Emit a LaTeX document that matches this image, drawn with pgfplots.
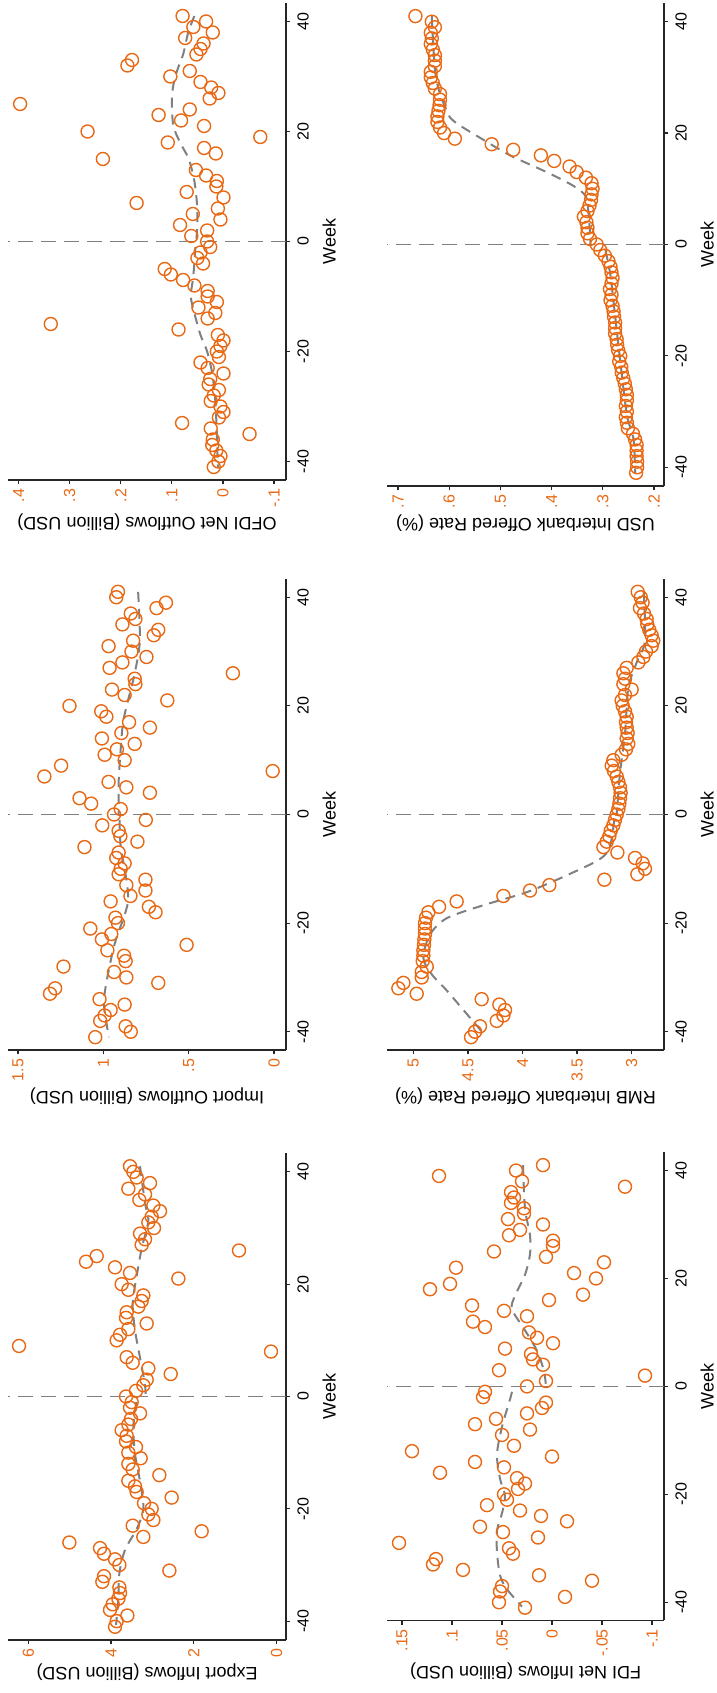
\documentclass[border=0pt]{standalone}
\usepackage{pgfplots}
\pgfplotsset{compat=1.18}
\usepackage{pgfplotstable}
\usepackage{fontspec}
\setmainfont{Liberation Sans}
\definecolor{stor}{RGB}{232,104,20}
\definecolor{stgr}{RGB}{128,128,128}

\pgfplotstableread{
w v
41 0.079
40 0.033
39 0.058
38 0.020
37 0.074
36 0.038
35 0.044
34 0.052
33 0.178
32 0.187
31 0.065
30 0.103
29 0.044
28 0.023
27 0.009
26 0.026
25 0.397
24 0.065
23 0.126
22 0.082
21 0.037
20 0.265
19 -0.073
18 0.108
17 0.037
16 0.014
15 0.235
13 0.053
12 0.033
11 0.012
10 0.013
9 0.071
8 -0.001
7 0.169
6 0.010
5 0.059
4 0.005
3 0.084
2 0.031
1 0.062
0 0.031
-1 0.025
-2 0.044
-3 0.050
-4 0.039
-5 0.114
-6 0.102
-7 0.078
-8 0.056
-9 0.030
-10 0.030
-11 0.012
-12 0.048
-13 0.015
-14 0.030
-15 0.337
-16 0.087
-17 0.010
-18 -0.001
-19 0.005
-20 0.012
-21 0.008
-22 0.044
-23 0.030
-24 -0.001
-25 0.025
-26 0.028
-27 0.008
-28 0.018
-29 0.024
-30 0.005
-31 -0.001
-32 0.008
-33 0.080
-34 0.024
-35 -0.052
-36 0.020
-37 0.021
-38 0.013
-39 0.005
-40 0.009
-41 0.018
}\ofdi

\pgfplotstableread{
w v
41 0.666
40 0.634
39 0.628
38 0.636
37 0.634
36 0.636
35 0.632
34 0.628
33 0.628
32 0.628
31 0.636
30 0.636
29 0.632
28 0.628
27 0.618
26 0.618
25 0.619
24 0.621
23 0.623
22 0.623
21 0.618
20 0.610
19 0.589
18 0.517
17 0.475
16 0.421
15 0.395
14 0.365
13 0.351
12 0.333
11 0.322
10 0.320
9 0.322
8 0.323
7 0.326
6 0.330
5 0.337
4 0.332
3 0.330
2 0.330
1 0.325
0 0.312
-1 0.305
-2 0.296
-3 0.289
-4 0.285
-5 0.283
-6 0.281
-7 0.283
-8 0.286
-9 0.283
-10 0.285
-11 0.281
-12 0.279
-13 0.278
-14 0.276
-15 0.276
-16 0.276
-17 0.273
-18 0.272
-19 0.270
-20 0.266
-21 0.268
-22 0.264
-23 0.263
-24 0.260
-25 0.257
-26 0.255
-27 0.253
-28 0.253
-29 0.255
-30 0.253
-31 0.255
-32 0.253
-33 0.251
-34 0.241
-35 0.237
-36 0.234
-37 0.234
-38 0.234
-39 0.233
-40 0.233
-41 0.235
}\usd

\pgfplotstableread{
w v
41 0.914
40 0.924
39 0.633
38 0.688
37 0.839
36 0.812
35 0.888
34 0.678
33 0.704
32 0.825
31 0.969
30 0.835
29 0.747
28 0.888
27 0.963
26 0.241
25 0.816
24 0.812
23 0.949
22 0.875
21 0.625
20 1.198
19 1.012
18 0.982
17 0.849
16 0.727
15 0.894
14 1.008
13 0.816
12 0.920
11 0.992
10 0.875
9 1.247
8 0.008
7 1.345
6 0.969
5 0.865
4 0.727
3 1.139
2 1.071
1 0.898
0 0.937
-1 0.751
-2 1.006
-3 0.910
-4 0.900
-5 0.800
-6 1.110
-7 0.910
-8 0.924
-9 0.875
-10 0.898
-11 0.910
-12 0.753
-13 0.865
-14 0.753
-15 0.841
-16 0.957
-17 0.733
-18 0.694
-19 0.929
-20 0.914
-21 1.076
-22 0.953
-23 1.008
-24 0.512
-25 0.976
-26 0.878
-27 0.869
-28 1.233
-29 0.937
-30 0.865
-31 0.678
-32 1.282
-33 1.312
-34 1.022
-35 0.875
-36 0.957
-37 0.992
-38 1.018
-39 0.869
-40 0.839
-41 1.047
}\import

\pgfplotstableread{
w v
41 2.945
40 2.917
39 2.900
38 2.924
37 2.887
36 2.863
35 2.857
34 2.839
33 2.817
32 2.802
31 2.817
30 2.869
29 2.893
28 2.939
27 3.046
26 3.076
25 3.061
24 3.076
23 3.000
22 3.061
21 3.092
20 3.082
19 3.061
18 3.046
17 3.052
16 3.046
15 3.037
14 3.046
13 3.031
12 3.052
11 3.092
10 3.168
9 3.183
8 3.162
7 3.137
6 3.122
5 3.107
4 3.101
3 3.107
2 3.113
1 3.122
0 3.137
-1 3.153
-2 3.168
-3 3.192
-4 3.205
-5 3.229
-6 3.259
-7 3.131
-8 2.969
-9 2.899
-10 2.878
-11 2.948
-12 3.250
-13 3.754
-14 3.931
-15 4.175
-16 4.603
-17 4.764
-18 4.862
-19 4.884
-20 4.893
-21 4.893
-22 4.893
-23 4.899
-24 4.902
-25 4.908
-26 4.908
-27 4.914
-28 4.877
-29 4.923
-30 4.923
-31 5.091
-32 5.137
-33 4.969
-34 4.374
-35 4.212
-36 4.160
-37 4.175
-38 4.236
-39 4.389
-40 4.435
-41 4.471
}\rmb

\pgfplotstableread{
w v
41 3.543
40 3.462
39 3.382
38 3.060
37 3.583
36 3.180
35 3.317
34 2.979
33 2.818
32 3.019
31 3.100
30 2.963
29 3.301
28 3.180
27 3.261
26 0.910
25 4.348
24 4.605
23 3.905
22 3.543
21 2.375
20 3.744
19 3.583
18 3.221
17 3.261
16 3.341
15 3.623
14 3.639
13 3.140
12 3.583
11 3.784
10 3.865
9 6.224
8 0.137
7 3.623
6 3.478
5 3.100
4 2.560
3 3.140
2 3.221
1 3.398
0 3.639
-1 3.502
-2 3.543
-3 3.301
-4 3.519
-5 3.583
-6 3.744
-7 3.623
-8 3.639
-9 3.398
-10 3.583
-11 3.285
-12 3.583
-13 3.478
-14 2.834
-15 3.583
-16 3.422
-17 3.382
-18 2.536
-19 3.204
-20 3.019
-21 3.100
-22 2.979
-23 3.478
-24 1.812
-25 3.221
-26 5.008
-27 4.267
-28 4.171
-29 3.905
-30 3.800
-31 2.592
-32 4.171
-33 4.211
-34 3.800
-35 3.784
-36 3.824
-37 3.961
-38 4.026
-39 3.607
-40 3.865
-41 3.905
}\export

\pgfplotstableread{
w v
41 0.009
40 0.036
39 0.113
38 0.030
37 -0.073
36 0.041
35 0.038
34 0.041
33 0.028
32 0.028
31 0.044
30 0.009
29 0.032
28 0.043
27 -0.001
26 -0.001
25 0.058
24 0.006
23 -0.052
22 0.096
21 -0.022
20 -0.044
19 0.102
18 0.122
17 -0.031
16 0.003
15 0.080
14 0.048
13 0.025
12 0.079
11 0.067
10 0.023
9 0.015
8 -0.001
7 0.047
6 0.021
5 0.019
4 0.009
3 0.053
2 -0.093
1 0.006
0 0.025
-1 0.067
-2 0.069
-3 0.006
-4 0.010
-5 0.025
-6 0.056
-7 0.077
-8 0.022
-9 0.050
-11 0.038
-12 0.140
-13 0.000
-14 0.077
-15 0.048
-16 0.112
-17 0.035
-18 0.027
-19 0.034
-20 0.048
-21 0.045
-22 0.065
-23 0.032
-24 0.011
-25 -0.015
-26 0.072
-27 0.049
-28 0.014
-29 0.153
-30 0.043
-31 0.039
-32 0.116
-33 0.119
-34 0.089
-35 0.013
-36 -0.040
-37 0.050
-38 0.052
-39 -0.013
-40 0.053
-41 0.027
}\fdi

\pgfplotsset{
  every axis x label/.style={at={(ticklabel cs:0.5)}, rotate=180, anchor=south,
    inner sep=1pt, font=\fontsize{9}{10.8}\selectfont},
  every axis y label/.style={at={(ticklabel cs:0.5)}, rotate=90, anchor=north,
    font=\fontsize{9}{10.8}\selectfont},
  panel/.style={
    scale only axis, anchor=south west,
    x dir=reverse,
    axis x line*=bottom,
    axis y line*=right,
    axis line style={black!85, line width=0.7pt},
    ymin=-43.36, ymax=43.36,
    ytick={-40,-20,0,20,40},
    yticklabels={-40,-20,0,20,40},
    yticklabel style={rotate=90, anchor=north, font=\fontsize{8}{9.6}\selectfont, text=black},
    xticklabel style={rotate=90, anchor=east, inner sep=2pt, font=\fontsize{8}{9.6}\selectfont, text=stor},
    tick style={black!85, line width=0.6pt},
    tick align=outside,
    major tick length=2.2pt,
    ylabel={Week},
    clip=false,
  },
  pts/.style={only marks, mark=o, mark size=3.25pt, mark options={stor, line width=0.7pt}},
  fitl/.style={stgr, line width=1pt, dash pattern=on 5pt off 3.5pt, smooth, no marks},
  zero/.style={stgr, line width=0.75pt, dash pattern=on 7.5pt off 4pt, no marks},
}

\begin{document}
\begin{tikzpicture}
\useasboundingbox (0pt,0pt) rectangle (358.5pt,846.5pt);

% ---------- OFDI (top left) ----------
\begin{axis}[panel, at={(4pt,606.5pt)}, width=139pt, height=238.5pt,
  xmin=-0.1233, xmax=0.4207,
  xtick={-0.1,0,0.1,0.2,0.3,0.4}, xticklabels={-.1,0,.1,.2,.3,.4},
  xlabel={OFDI Net Outflows (Billion USD)}]
\addplot[zero] coordinates {(-0.1233,0) (0.4207,0)};
\addplot[pts] table[x=v,y=w] {\ofdi};
\addplot[fitl] coordinates {(0.056,41) (0.068,38) (0.078,34) (0.090,31) (0.098,28) (0.100,25) (0.097,21) (0.084,18) (0.067,15) (0.056,11) (0.051,7) (0.050,4) (0.052,0)};
\addplot[fitl] coordinates {(0.054,-1) (0.056,-4) (0.059,-7) (0.063,-10) (0.056,-13) (0.044,-17) (0.031,-20) (0.021,-24) (0.015,-29) (0.012,-35) (0.010,-41)};
\end{axis}

% ---------- USD (top right) ----------
\begin{axis}[panel, at={(193.5pt,603.5pt)}, width=138.5pt, height=241.5pt,
  xmin=0.1805, xmax=0.7215,
  xtick={0.2,0.3,0.4,0.5,0.6,0.7}, xticklabels={.2,.3,.4,.5,.6,.7},
  xlabel={USD Interbank Offered Rate (\%)}]
\addplot[zero] coordinates {(0.1805,0) (0.7215,0)};
\addplot[pts] table[x=v,y=w] {\usd};
\addplot[fitl] coordinates {(0.634,41) (0.626,30) (0.605,24) (0.589,22) (0.537,19) (0.481,16) (0.410,13) (0.357,10.5) (0.333,8.6) (0.328,5.6) (0.325,2) (0.324,0)};
\addplot[fitl] coordinates {(0.295,-1) (0.285,-5.6) (0.276,-12.8) (0.265,-21.7) (0.253,-30.6) (0.240,-35) (0.237,-41)};
\end{axis}

% ---------- Import (middle left) ----------
\begin{axis}[panel, at={(4pt,321.5pt)}, width=139pt, height=235.5pt,
  xmin=-0.07, xmax=1.558,
  xtick={0,0.5,1,1.5}, xticklabels={0,.5,1,1.5},
  xlabel={Import Outflows (Billion USD)}]
\addplot[zero] coordinates {(-0.07,0) (1.558,0)};
\addplot[pts] table[x=v,y=w] {\import};
\addplot[fitl] coordinates {(0.796,41) (0.786,32) (0.816,26) (0.855,21) (0.884,17) (0.898,12) (0.910,6) (0.910,0)};
\addplot[fitl] coordinates {(0.905,-1) (0.898,-6) (0.875,-10) (0.860,-13) (0.855,-16) (0.880,-19) (0.915,-22) (0.943,-25) (0.982,-31) (0.996,-35) (0.967,-41)};
\end{axis}

% ---------- RMB (middle right) ----------
\begin{axis}[panel, at={(193.5pt,321.5pt)}, width=138.5pt, height=235.5pt,
  xmin=2.704, xmax=5.241,
  xtick={3,3.5,4,4.5,5}, xticklabels={3,3.5,4,4.5,5},
  xlabel={RMB Interbank Offered Rate (\%)}]
\addplot[zero] coordinates {(2.704,0) (5.241,0)};
\addplot[pts] table[x=v,y=w] {\rmb};
\addplot[fitl] coordinates {(2.890,41) (2.878,32) (2.954,28) (3.031,23.3) (3.061,14.9) (3.107,7.6) (3.137,0)};
\addplot[fitl] coordinates {(3.160,-1) (3.198,-5.8) (3.290,-8.2) (3.595,-11.2) (3.960,-14.3) (4.358,-16.7) (4.694,-19.1) (4.847,-22.1) (4.908,-26.4) (4.832,-29.4) (4.694,-32.4) (4.541,-36) (4.358,-40.3)};
\end{axis}

% ---------- Export (bottom left) ----------
\begin{axis}[panel, at={(4pt,26.5pt)}, width=139pt, height=243.5pt,
  xmin=-0.225, xmax=6.49,
  xtick={0,2,4,6}, xticklabels={0,2,4,6},
  xlabel={Export Inflows (Billion USD)}]
\addplot[zero] coordinates {(-0.225,0) (6.49,0)};
\addplot[pts] table[x=v,y=w] {\export};
\addplot[fitl] coordinates {(3.301,41) (3.180,34.4) (3.100,31.3) (3.260,26.4) (3.380,21.5) (3.478,16.6) (3.422,11.8) (3.301,6.9) (3.180,2) (3.170,0)};
\addplot[fitl] coordinates {(3.390,-1) (3.462,-5.3) (3.422,-10.2) (3.301,-15.1) (3.220,-20) (3.382,-23.6) (3.663,-27.3) (3.800,-31.5) (3.824,-35.8) (3.880,-40.7)};
\end{axis}

% ---------- FDI (bottom right) ----------
\begin{axis}[panel, at={(193.5pt,36.3pt)}, width=138.5pt, height=234pt,
  xmin=-0.112, xmax=0.165,
  xtick={-0.1,-0.05,0,0.05,0.1,0.15}, xticklabels={-.1,-.05,0,.05,.1,.15},
  xlabel={FDI Net Inflows (Billion USD)}]
\addplot[zero] coordinates {(-0.112,0) (0.165,0)};
\addplot[pts] table[x=v,y=w] {\fdi};
\addplot[fitl] coordinates {(0.029,41) (0.027,33) (0.022,28) (0.022,24.5) (0.027,20.7) (0.037,16.8) (0.040,14.3) (0.027,10.4) (0.015,6.6) (0.008,2.8) (0.006,0)};
\addplot[fitl] coordinates {(0.040,-1) (0.042,-2.4) (0.050,-7.5) (0.055,-12.6) (0.052,-17.1) (0.047,-20.3) (0.050,-23.5) (0.055,-26.7) (0.055,-30.6) (0.052,-35) (0.045,-37.6) (0.030,-40.8)};
\end{axis}
\end{tikzpicture}
\end{document}
